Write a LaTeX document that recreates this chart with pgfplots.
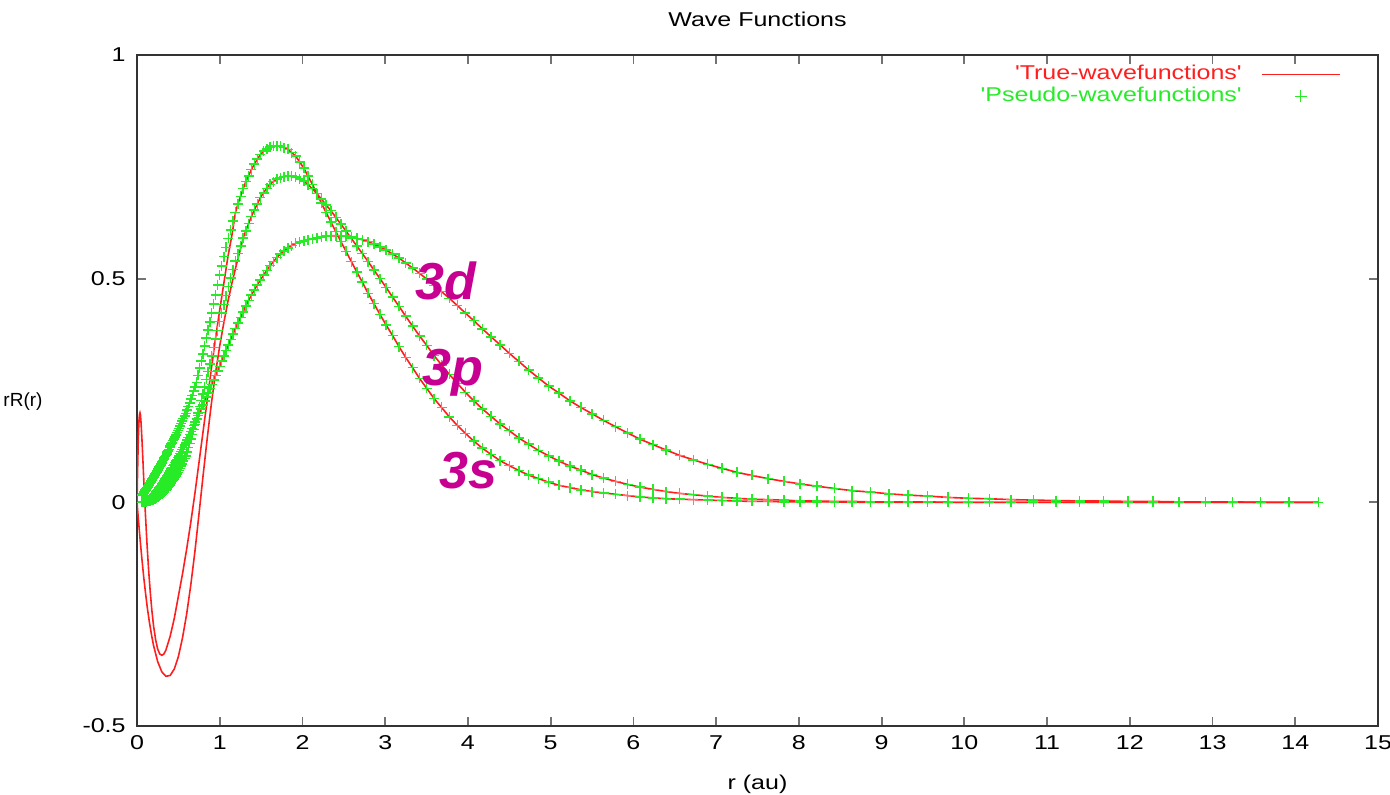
\documentclass[border=0pt]{standalone}
\usepackage{fontspec}
\setmainfont{Liberation Sans}[FakeStretch=1.25, Ligatures=TeXOff]
\newfontfamily\tagfont{Liberation Sans}
\usepackage{pgfplots}
\usepackage{pgfplotstable}
\pgfplotsset{compat=1.18}

\definecolor{truered}{RGB}{255,30,30}
\definecolor{pseudogreen}{RGB}{40,235,40}
\definecolor{tagmagenta}{RGB}{200,0,145}

% pseudo wavefunctions on the logarithmic radial mesh: r, 3s, 3p, 3d
\pgfplotstableread{
r s p d
0.0571 0.015 0 0
0.0586 0.015 0 0
0.0600 0.016 0 0
0.0616 0.016 0 0
0.0631 0.016 0 0
0.0647 0.017 0 0
0.0664 0.017 0 0
0.0681 0.018 0 0
0.0698 0.018 0 0
0.0716 0.019 0 0
0.0734 0.019 0.001 0.001
0.0753 0.020 0.001 0.001
0.0772 0.020 0.001 0.001
0.0791 0.021 0.001 0.001
0.0812 0.021 0.001 0.001
0.0832 0.022 0.001 0.001
0.0853 0.022 0.001 0.001
0.0875 0.023 0.001 0.001
0.0897 0.024 0.001 0.001
0.0920 0.024 0.001 0.002
0.0943 0.025 0.001 0.002
0.0967 0.026 0.001 0.002
0.0992 0.026 0.001 0.002
0.1017 0.027 0.001 0.002
0.1043 0.028 0.001 0.002
0.1069 0.028 0.001 0.002
0.1096 0.029 0.002 0.003
0.1124 0.030 0.002 0.003
0.1153 0.031 0.002 0.003
0.1182 0.032 0.002 0.003
0.1212 0.033 0.002 0.004
0.1243 0.033 0.002 0.004
0.1274 0.034 0.002 0.004
0.1307 0.035 0.002 0.004
0.1340 0.036 0.003 0.005
0.1374 0.037 0.003 0.005
0.1409 0.038 0.003 0.006
0.1445 0.039 0.003 0.006
0.1481 0.040 0.003 0.006
0.1519 0.042 0.003 0.007
0.1558 0.043 0.004 0.008
0.1598 0.044 0.004 0.008
0.1638 0.045 0.004 0.009
0.1680 0.046 0.005 0.009
0.1723 0.048 0.005 0.010
0.1766 0.049 0.005 0.011
0.1811 0.050 0.005 0.012
0.1857 0.052 0.006 0.013
0.1904 0.053 0.006 0.014
0.1953 0.055 0.007 0.015
0.2003 0.056 0.007 0.016
0.2054 0.058 0.007 0.017
0.2106 0.059 0.008 0.018
0.2160 0.061 0.008 0.019
0.2214 0.063 0.009 0.020
0.2271 0.065 0.009 0.022
0.2328 0.066 0.010 0.023
0.2388 0.068 0.011 0.024
0.2448 0.070 0.011 0.026
0.2511 0.072 0.012 0.027
0.2574 0.074 0.013 0.029
0.2639 0.076 0.014 0.030
0.2707 0.079 0.015 0.032
0.2775 0.081 0.016 0.034
0.2846 0.083 0.017 0.036
0.2918 0.086 0.018 0.038
0.2992 0.088 0.019 0.040
0.3068 0.091 0.020 0.042
0.3146 0.094 0.021 0.044
0.3226 0.096 0.023 0.047
0.3309 0.099 0.024 0.049
0.3393 0.102 0.026 0.052
0.3479 0.105 0.028 0.054
0.3568 0.108 0.030 0.057
0.3658 0.112 0.032 0.060
0.3751 0.115 0.033 0.062
0.3847 0.118 0.036 0.065
0.3944 0.122 0.038 0.068
0.4045 0.126 0.040 0.071
0.4148 0.130 0.043 0.075
0.4253 0.133 0.046 0.078
0.4361 0.138 0.049 0.082
0.4472 0.142 0.052 0.085
0.4586 0.146 0.055 0.089
0.4702 0.151 0.059 0.092
0.4822 0.156 0.063 0.096
0.4944 0.160 0.067 0.100
0.5070 0.165 0.071 0.104
0.5198 0.171 0.076 0.109
0.5331 0.176 0.081 0.114
0.5466 0.182 0.086 0.118
0.5605 0.187 0.092 0.123
0.5748 0.193 0.098 0.128
0.5893 0.199 0.104 0.133
0.6043 0.206 0.112 0.139
0.6197 0.214 0.122 0.145
0.6354 0.222 0.132 0.152
0.6516 0.231 0.142 0.158
0.6681 0.239 0.152 0.165
0.6851 0.249 0.163 0.172
0.7025 0.258 0.174 0.179
0.7203 0.268 0.187 0.186
0.7387 0.284 0.200 0.194
0.7574 0.300 0.214 0.201
0.7767 0.316 0.228 0.209
0.7964 0.332 0.242 0.218
0.8167 0.349 0.258 0.226
0.8374 0.367 0.275 0.235
0.8587 0.385 0.292 0.244
0.8805 0.403 0.309 0.254
0.9029 0.423 0.327 0.263
0.9258 0.443 0.346 0.273
0.9494 0.464 0.365 0.284
0.9735 0.486 0.384 0.294
0.9983 0.508 0.404 0.304
1.0236 0.528 0.423 0.316
1.0496 0.549 0.442 0.327
1.0763 0.570 0.462 0.339
1.1036 0.590 0.482 0.352
1.1317 0.609 0.501 0.364
1.1605 0.629 0.520 0.376
1.1900 0.648 0.539 0.389
1.2203 0.667 0.556 0.401
1.2513 0.684 0.573 0.413
1.2831 0.701 0.591 0.426
1.3157 0.717 0.607 0.439
1.3491 0.730 0.623 0.451
1.3833 0.744 0.639 0.463
1.4185 0.756 0.654 0.475
1.4545 0.767 0.667 0.486
1.4916 0.777 0.681 0.497
1.5295 0.785 0.692 0.508
1.5684 0.790 0.702 0.518
1.6082 0.794 0.711 0.529
1.6491 0.796 0.717 0.538
1.6910 0.797 0.723 0.547
1.7340 0.796 0.726 0.555
1.7780 0.793 0.728 0.562
1.8232 0.789 0.729 0.568
1.8696 0.782 0.729 0.574
1.9172 0.774 0.727 0.579
1.9659 0.761 0.723 0.582
2.0159 0.747 0.718 0.584
2.0671 0.729 0.710 0.587
2.1196 0.711 0.701 0.589
2.1735 0.690 0.690 0.591
2.2287 0.669 0.678 0.593
2.2853 0.648 0.665 0.595
2.3434 0.627 0.652 0.596
2.4030 0.605 0.637 0.596
2.4641 0.583 0.622 0.596
2.5267 0.561 0.606 0.595
2.5909 0.538 0.590 0.593
2.6568 0.515 0.573 0.590
2.7243 0.492 0.556 0.587
2.7936 0.467 0.538 0.583
2.8645 0.444 0.519 0.577
2.9372 0.420 0.500 0.571
3.0119 0.396 0.480 0.564
3.0885 0.373 0.459 0.555
3.1671 0.348 0.438 0.546
3.2475 0.324 0.416 0.535
3.3302 0.301 0.394 0.524
3.4148 0.277 0.372 0.512
3.5015 0.255 0.351 0.499
3.5905 0.232 0.328 0.485
3.6817 0.212 0.307 0.471
3.7752 0.191 0.286 0.456
3.8712 0.172 0.266 0.440
3.9696 0.154 0.246 0.423
4.0706 0.137 0.227 0.406
4.1740 0.121 0.209 0.388
4.2801 0.107 0.192 0.370
4.3889 0.093 0.175 0.352
4.5005 0.082 0.160 0.333
4.6148 0.071 0.144 0.315
4.7321 0.061 0.130 0.296
4.8522 0.053 0.116 0.278
4.9755 0.045 0.104 0.260
5.1021 0.038 0.092 0.244
5.232 0.033 0.081 0.227
5.365 0.028 0.072 0.212
5.501 0.024 0.062 0.198
5.641 0.021 0.054 0.183
5.784 0.018 0.047 0.169
5.931 0.015 0.040 0.155
6.082 0.012 0.034 0.141
6.236 0.010 0.029 0.129
6.395 0.008 0.024 0.117
6.558 0.007 0.020 0.105
6.725 0.006 0.017 0.095
6.896 0.005 0.014 0.085
7.071 0.004 0.011 0.076
7.251 0.003 0.009 0.067
7.435 0.002 0.007 0.060
7.624 0.002 0.006 0.053
7.818 0.001 0.005 0.047
8.016 0.001 0.003 0.041
8.220 0.001 0.003 0.036
8.429 0.001 0.002 0.031
8.644 0 0.002 0.026
8.864 0 0.001 0.023
9.089 0 0.001 0.019
9.320 0 0.001 0.016
9.557 0 0.001 0.014
9.800 0 0 0.011
10.049 0 0 0.009
10.304 0 0 0.008
10.566 0 0 0.006
10.835 0 0 0.005
11.110 0 0 0.004
11.392 0 0 0.003
11.682 0 0 0.003
11.979 0 0 0.002
12.283 0 0 0.002
12.595 0 0 0.001
12.915 0 0 0.001
13.243 0 0 0.001
13.580 0 0 0
13.925 0 0 0
14.280 0 0 0
}\pseudotab

% all-electron 3s inside the core region
\pgfplotstableread{
r v
0 0
0.005 0.050
0.010 0.095
0.015 0.135
0.020 0.165
0.025 0.185
0.030 0.196
0.036 0.200
0.042 0.195
0.050 0.175
0.060 0.140
0.070 0.100
0.080 0.058
0.090 0.018
0.100 -0.020
0.120 -0.090
0.140 -0.150
0.160 -0.200
0.180 -0.242
0.200 -0.276
0.225 -0.307
0.250 -0.328
0.275 -0.339
0.300 -0.342
0.325 -0.339
0.350 -0.330
0.400 -0.300
0.450 -0.260
0.500 -0.210
0.550 -0.160
0.600 -0.105
0.650 -0.045
0.700 0.020
0.750 0.090
0.800 0.160
0.850 0.230
0.900 0.300
0.950 0.368
1.000 0.430
1.050 0.490
1.100 0.550
1.150 0.600
1.1900 0.648
}\trueS

% all-electron 3p inside the core region
\pgfplotstableread{
r v
0 0
0.020 -0.045
0.040 -0.088
0.060 -0.128
0.080 -0.165
0.100 -0.198
0.125 -0.236
0.150 -0.268
0.175 -0.296
0.200 -0.320
0.250 -0.356
0.300 -0.379
0.350 -0.389
0.400 -0.387
0.450 -0.373
0.500 -0.345
0.550 -0.303
0.600 -0.250
0.650 -0.185
0.700 -0.110
0.750 -0.025
0.800 0.062
0.850 0.145
0.900 0.222
0.950 0.290
1.000 0.350
1.050 0.402
1.100 0.450
1.150 0.492
1.200 0.530
1.250 0.566
1.2831 0.591
}\trueP

\begin{document}
\begin{tikzpicture}
\begin{axis}[
  scale only axis, width=620.5pt, height=335.5pt,
  xmin=0, xmax=15, ymin=-0.5, ymax=1,
  clip mode=individual,
  xtick={0,1,2,3,4,5,6,7,8,9,10,11,12,13,14,15},
  xticklabels={0,1,2,3,4,5,6,7,8,9,10,11,12,13,14,15},
  ytick={-0.5,0,0.5,1},
  yticklabels={-0.5,0,0.5,1},
  tick align=inside, major tick length=4.5pt,
  axis line style={black!80, line width=1.2pt},
  tick style={black!55, line width=0.9pt},
  xticklabel style={anchor=base, yshift=-12pt, inner sep=0pt},
  yticklabel style={anchor=east, xshift=-5.5pt, inner sep=0pt},
  legend plot pos=right,
  legend cell align=right,
  legend style={draw=none, fill=none, at={(0.970,0.988)}, anchor=north east,
    inner sep=0pt, column sep=9pt,
    nodes={inner sep=0.5pt, text height=7.5pt, text depth=2.5pt}},
]
% all-electron wavefunctions
\addplot[truered, line width=0.8pt, forget plot] table[x=r, y=d] {\pseudotab};
\addplot[truered, line width=0.8pt, forget plot] table[x=r, y=v] {\trueS};
\addplot[truered, line width=0.8pt, forget plot, restrict x to domain=1.19:15] table[x=r, y=s] {\pseudotab};
\addplot[truered, line width=0.8pt, forget plot] table[x=r, y=v] {\trueP};
\addplot[truered, line width=0.8pt, forget plot, restrict x to domain=1.28:15] table[x=r, y=p] {\pseudotab};
% pseudo wavefunctions
\addplot[only marks, mark=+, mark size=2.5pt, pseudogreen, mark options={line width=0.75pt}, forget plot] table[x=r, y=s] {\pseudotab};
\addplot[only marks, mark=+, mark size=2.5pt, pseudogreen, mark options={line width=0.75pt}, forget plot] table[x=r, y=p] {\pseudotab};
\addplot[only marks, mark=+, mark size=2.5pt, pseudogreen, mark options={line width=0.75pt}, forget plot] table[x=r, y=d] {\pseudotab};

\addlegendimage{legend image code/.code={\draw[truered, line width=0.8pt] (0pt,0pt) -- (39pt,0pt);}}
\addlegendentry{\textcolor{truered}{'True-wavefunctions'}}
\addlegendimage{legend image code/.code={\draw[pseudogreen, line width=0.8pt] (16.5pt,0pt) -- (22.5pt,0pt) (19.5pt,-3pt) -- (19.5pt,3pt);}}
\addlegendentry{\textcolor{pseudogreen}{'Pseudo-wavefunctions'}}

\node[font=\tagfont\bfseries\itshape\fontsize{26}{26}\selectfont, text=tagmagenta] at (axis cs:3.735,0.494) {3d};
\node[font=\tagfont\bfseries\itshape\fontsize{26}{26}\selectfont, text=tagmagenta] at (axis cs:3.82,0.289) {3p};
\node[font=\tagfont\bfseries\itshape\fontsize{26}{26}\selectfont, text=tagmagenta] at (axis cs:4.01,0.072) {3s};

\coordinate (bl) at (rel axis cs:0,0);
\coordinate (tr) at (rel axis cs:1,1);
\coordinate (tc) at (rel axis cs:0.5,1);
\coordinate (bc) at (rel axis cs:0.5,0);
\coordinate (lc) at (rel axis cs:0,0.5);
\end{axis}
\node[anchor=base] at ([yshift=14.25pt]tc) {Wave Functions};
\node[anchor=base] at ([yshift=-32pt]bc) {r (au)};
\node[anchor=center, inner sep=0pt, font=\tagfont\fontsize{9.5}{11}\selectfont] at ([shift={(-57pt,-5.5pt)}]lc) {rR(r)};
\pgfresetboundingbox
\path (bl) ++(-68.5pt,-34.5pt) rectangle ([shift={(6pt,27.5pt)}]tr);
\end{tikzpicture}
\end{document}
